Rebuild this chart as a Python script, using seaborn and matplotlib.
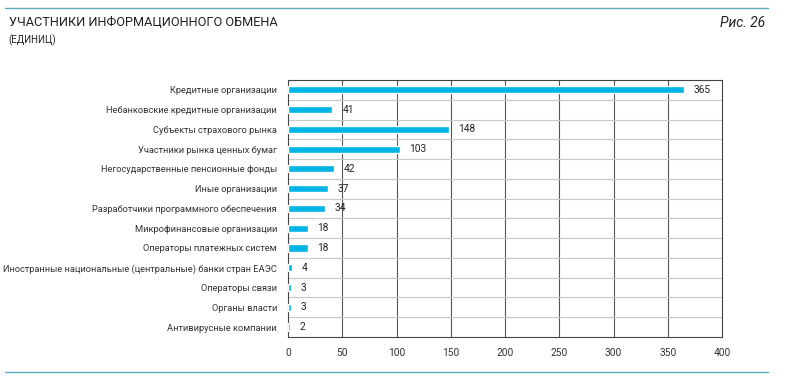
import pandas as pd
import seaborn as sns
import matplotlib.pyplot as plt
from matplotlib.lines import Line2D

categories = [
    'Кредитные организации',
    'Небанковские кредитные организации',
    'Субъекты страхового рынка',
    'Участники рынка ценных бумаг',
    'Негосударственные пенсионные фонды',
    'Иные организации',
    'Разработчики программного обеспечения',
    'Микрофинансовые организации',
    'Операторы платежных систем',
    'Иностранные национальные (центральные) банки стран ЕАЭС',
    'Операторы связи',
    'Органы власти',
    'Антивирусные компании',
]
values = [365, 41, 148, 103, 42, 37, 34, 18, 18, 4, 3, 3, 2]
ticks = [0, 50, 100, 150, 200, 250, 300, 350, 400]

df = pd.DataFrame({'cat': categories, 'val': values})

sns.set_style('white')
plt.rcParams['font.family'] = ['Roboto', 'DejaVu Sans']

fig = plt.figure(figsize=(8, 3.79), dpi=100)
ax = fig.add_axes([0.36, 0.111, 0.5425, 0.678])

sns.barplot(data=df, y='cat', x='val', color='#00b4e6', width=0.36,
            saturation=1, ax=ax, zorder=3)

ax.set_xlim(0, 400)
ax.set_ylim(len(categories) - 0.5, -0.5)
ax.set_xticks(ticks)
ax.set_xticklabels([str(t) for t in ticks], fontsize=7.3, color='#333333')
ax.tick_params(axis='y', labelsize=6.7, colors='#333333', length=0, pad=8)
ax.tick_params(axis='x', length=0, pad=8)
ax.set_xlabel('')
ax.set_ylabel('')

# vertical grid lines
for t in ticks[1:-1]:
    ax.axvline(t, color='#555555', lw=0.8, zorder=1)
# horizontal separators between categories
for i in range(len(categories) - 1):
    ax.axhline(i + 0.5, color='#c8c8c8', lw=0.8, zorder=1)

for s in ax.spines.values():
    s.set_color('#444444')
    s.set_linewidth(0.8)

for i, v in enumerate(values):
    ax.text(v + 9, i, str(v), va='center', ha='left', fontsize=7.3,
            color='#222222', zorder=4)

# header / footer
fig.add_artist(Line2D([0.006, 0.96], [0.979, 0.979], color='#5aaac3', lw=1))
fig.add_artist(Line2D([0.006, 0.96], [0.018, 0.018], color='#5aaac3', lw=1))
fig.text(0.011, 0.94, 'УЧАСТНИКИ ИНФОРМАЦИОННОГО ОБМЕНА', fontsize=9.2,
         color='#222222', va='center', ha='left')
fig.text(0.011, 0.893, '(ЕДИНИЦ)', fontsize=7, color='#222222',
         va='center', ha='left')
fig.text(0.956, 0.94, 'Рис. 26', fontsize=10, style='italic',
         color='#222222', va='center', ha='right')

fig.savefig('out.png', dpi=100)
